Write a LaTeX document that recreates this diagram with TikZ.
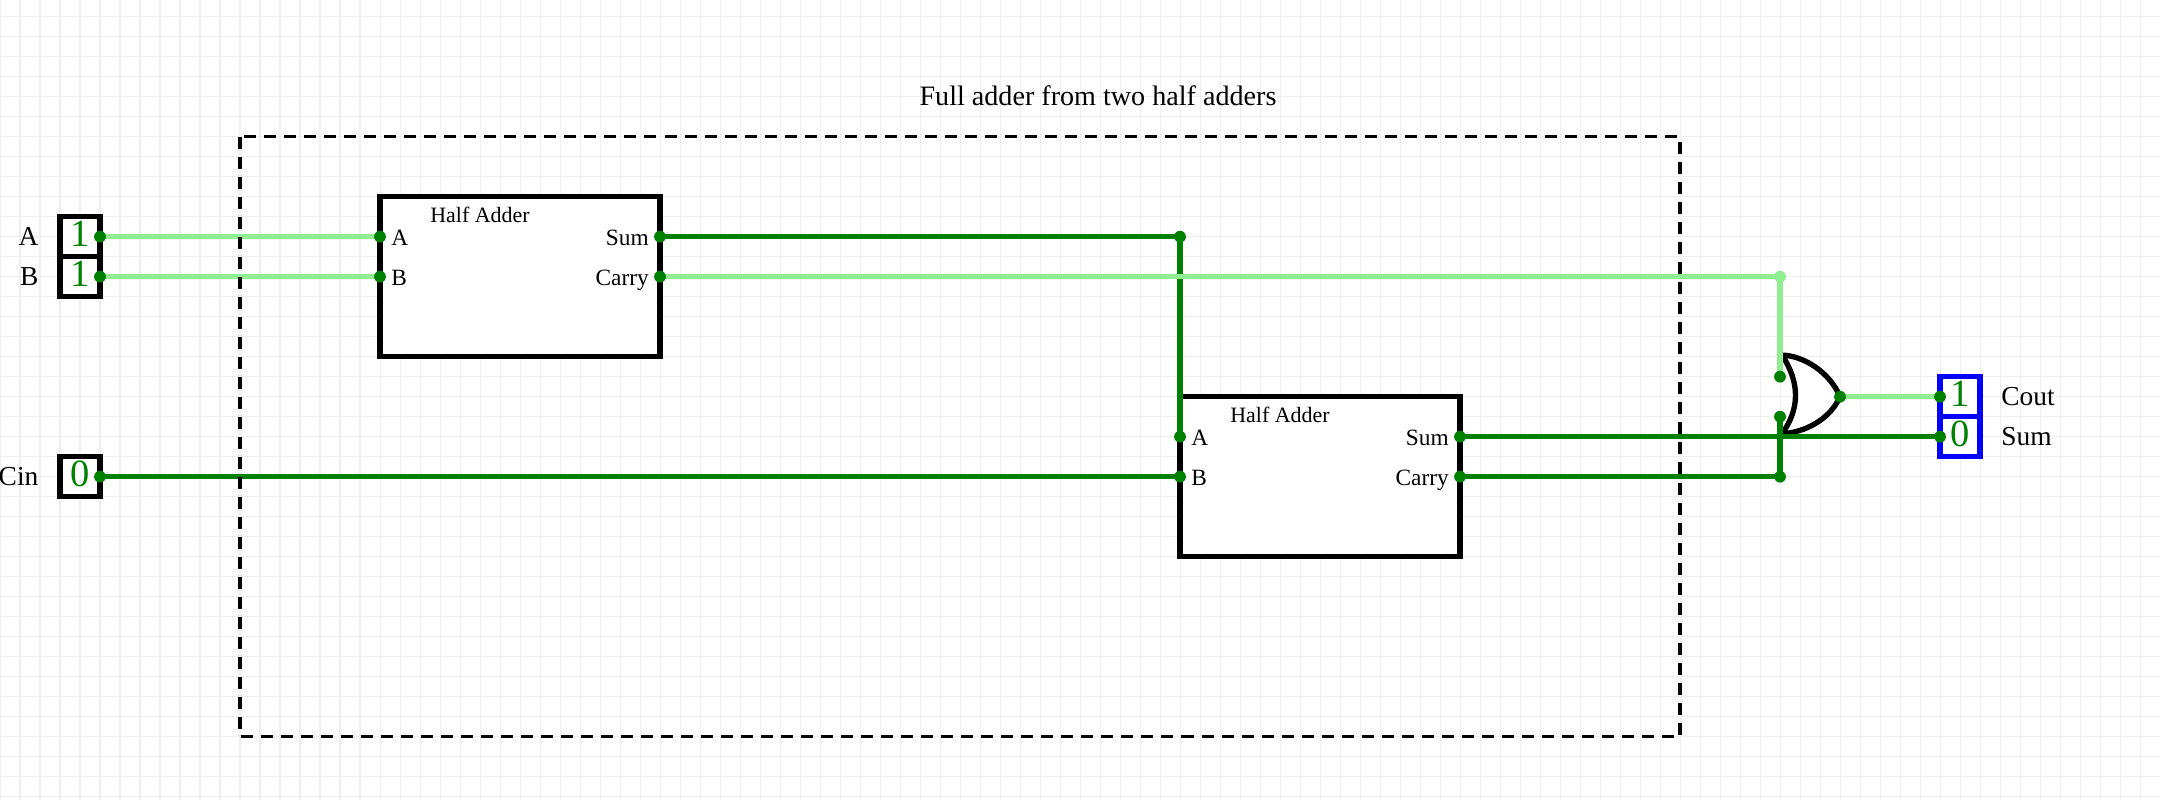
\documentclass[tikz,border=0pt]{standalone}
\usepackage{fontspec}
\setmainfont{Liberation Serif}
\definecolor{wireon}{HTML}{90EE90}
\definecolor{wireoff}{HTML}{008000}
\definecolor{gridgray}{HTML}{EEEEEE}
\tikzset{
	wire/.style={line width=1.9pt},
	wirehi/.style={wire, color=wireon},
	wirelo/.style={wire, color=wireoff},
	inbox/.style={draw, line width=1.9pt, fill=white, minimum size=0.5cm, inner sep=0pt, outer sep=0pt,
		text=wireoff, text depth=2pt, font=\fontsize{13.7}{15}\selectfont},
	outbox/.style={inbox, draw=blue},
	chipbox/.style={draw, line width=1.9pt, fill=white, minimum width=3.5cm, minimum height=2cm, outer sep=0pt},
	chipname/.style={inner sep=0pt, anchor=base, font=\fontsize{7.8}{9}\selectfont},
	pinlabel/.style={inner sep=0pt, text height=6.6pt, text depth=0pt, font=\fontsize{8.3}{10}\selectfont},
	iolabel/.style={inner sep=0pt, text height=6.6pt, text depth=0pt, font=\fontsize{9.75}{12}\selectfont},
	boundary/.style={line width=1.2pt, dash pattern=on 4.27pt off 2.85pt},
}

\begin{document}
\begin{tikzpicture}[x=0.25cm, y=-0.25cm]
			\useasboundingbox (0,-0.835) rectangle (108,39.165);
			\fill[white] (0,-0.835) rectangle (108,39.165);
			\foreach \x in {0,...,108}{
				\draw[gridgray, line width=0.36pt] (\x,-0.835) -- (\x,39.165);
			}
			\foreach \y in {0,...,39}{
				\draw[gridgray, line width=0.36pt] (0,\y) -- (108,\y);
			}
			\node[iolabel, anchor=base, font=\fontsize{10}{12}\selectfont] (title) at (54.9,4.465) {Full adder from two half adders};
			% inputs
			\node[inbox] (ina) at (4,11) {1};
			\node[inbox] (inb) at (4,13) {1};
			\node[inbox] (incin) at (4,23) {0};
			\node[iolabel, anchor=east, xshift=-7.5pt] (labela) at (ina.west) {A};
			\node[iolabel, anchor=east, xshift=-7.5pt] (labelb) at (inb.west) {B};
			\node[iolabel, anchor=east, xshift=-7.5pt] (labelcin) at (incin.west) {Cin};
			% outputs
			\node[outbox] (cout) at (98,19) {1};
			\node[outbox] (sum) at (98,21) {0};
			\node[iolabel, anchor=west, xshift=7.4pt] (labelcout) at (cout.east) {Cout};
			\node[iolabel, anchor=west, xshift=7.4pt] (labelsum) at (sum.east) {Sum};
			% half adders
			\node[chipbox] (ha1) at (26,13) {};
			\node[chipbox] (ha2) at (66,23) {};
			\node[chipname] (ha1name) at (24,10.27) {Half Adder};
			\node[chipname] (ha2name) at (64,20.27) {Half Adder};
			\coordinate (ha1a) at (19,11);
			\coordinate (ha1b) at (19,13);
			\coordinate (ha1sum) at (33,11);
			\coordinate (ha1carry) at (33,13);
			\coordinate (ha2a) at (59,21);
			\coordinate (ha2b) at (59,23);
			\coordinate (ha2sum) at (73,21);
			\coordinate (ha2carry) at (73,23);
			\node[pinlabel, anchor=west, xshift=3.8pt] (ha1la) at (ha1a) {A};
			\node[pinlabel, anchor=west, xshift=3.8pt] (ha1lb) at (ha1b) {B};
			\node[pinlabel, anchor=east, xshift=-3.8pt] (ha1lsum) at (ha1sum) {Sum};
			\node[pinlabel, anchor=east, xshift=-3.8pt] (ha1lcarry) at (ha1carry) {Carry};
			\node[pinlabel, anchor=west, xshift=3.8pt] (ha2la) at (ha2a) {A};
			\node[pinlabel, anchor=west, xshift=3.8pt] (ha2lb) at (ha2b) {B};
			\node[pinlabel, anchor=east, xshift=-3.8pt] (ha2lsum) at (ha2sum) {Sum};
			\node[pinlabel, anchor=east, xshift=-3.8pt] (ha2lcarry) at (ha2carry) {Carry};
			% or gate
			\coordinate (ortop) at (89.1,16.92);
			\coordinate (orbot) at (89.1,20.85);
			\coordinate (orout) at (92,19);
			\coordinate (orin1) at (89,18);
			\coordinate (orin2) at (89,20);
			\draw[line width=1.9pt, fill=white] (ortop) .. controls (90.2,16.95) and (91.5,17.8) .. (orout)
				.. controls (91.5,20.15) and (90.2,20.8) .. (orbot)
				.. controls (90,19.6) and (90,18.3) .. (ortop) -- cycle;
			% wires
			\coordinate (j1) at (59,11);
			\coordinate (j2) at (89,13);
			\coordinate (j3) at (89,23);
			\draw[wirelo] (incin.east) -- (ha2b);
			\draw[wirelo] (ha1sum) -- (j1) -- (ha2a);
			\draw[wirelo] (ha2sum) -- (sum.west);
			\draw[wirelo] (ha2carry) -- (j3) -- (orin2);
			\draw[wirehi] (ina.east) -- (ha1a);
			\draw[wirehi] (inb.east) -- (ha1b);
			\draw[wirehi] (ha1carry) -- (j2) -- (orin1);
			\draw[wirehi] (orout) -- (cout.west);
			\draw[boundary] (12,6) rectangle (84,36);
			\foreach \p in {ina.east, inb.east, incin.east, ha1a, ha1b, ha1sum, ha1carry, j1, ha2a, ha2b, ha2sum, ha2carry, j3, orin1, orin2, orout, cout.west, sum.west}{
				\fill[wireoff] (\p) circle (2.1pt);
			}
			\fill[wireon] (j2) circle (2.1pt);
		\end{tikzpicture}
\end{document}
